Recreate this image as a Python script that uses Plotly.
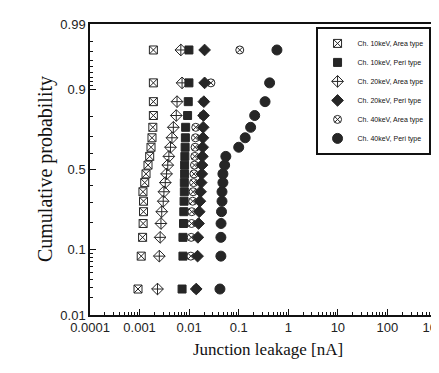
import plotly.graph_objects as go
from statistics import NormalDist

# cumulative probability of each rank
cum_prob = [0.028, 0.083, 0.139, 0.194, 0.25, 0.306, 0.361, 0.417, 0.472,
            0.528, 0.583, 0.639, 0.694, 0.75, 0.806, 0.861, 0.917, 0.972]

# junction leakage [nA] per series
ch10_area = [0.00093, 0.00108, 0.00115, 0.00118, 0.0012, 0.0012, 0.00117, 0.00127, 0.00135,
             0.00148, 0.0016, 0.0017, 0.00178, 0.00185, 0.0019, 0.0019, 0.0019, 0.0019]
ch10_peri = [0.0072, 0.0075, 0.0075, 0.0077, 0.0078, 0.0079, 0.008, 0.008, 0.0081,
             0.0081, 0.0082, 0.0083, 0.0084, 0.0085, 0.0093, 0.0096, 0.0099, 0.0099]
ch20_area = [0.0023, 0.0025, 0.0026, 0.0027, 0.0028, 0.003, 0.0031, 0.0033, 0.0035,
             0.0037, 0.0039, 0.0042, 0.0045, 0.0048, 0.0055, 0.0057, 0.0072, 0.0068]
ch20_peri = [0.0139, 0.0148, 0.015, 0.0155, 0.016, 0.0165, 0.017, 0.0175, 0.018,
             0.0182, 0.0185, 0.0188, 0.019, 0.0192, 0.0195, 0.0198, 0.0205, 0.0205]
ch40_area = [0.0139, 0.0108, 0.011, 0.0112, 0.0113, 0.0118, 0.012, 0.0123, 0.0125,
             0.0128, 0.013, 0.0132, 0.0134, 0.0136, 0.019, 0.0195, 0.0275, 0.105]
ch40_peri = [0.0418, 0.0437, 0.0437, 0.044, 0.045, 0.046, 0.046, 0.048, 0.048,
             0.052, 0.055, 0.10, 0.135, 0.174, 0.21, 0.34, 0.42, 0.59]

x_tick_vals = [1e-4, 1e-3, 1e-2, 1e-1, 1, 10, 100, 1000]
x_tick_text = ["0.0001", "0.001", "0.01", "0.1", "1", "10", "100", "1000"]
y_tick_probs = [0.01, 0.1, 0.5, 0.9, 0.99]
y_tick_text = ["0.01", "0.1", "0.5", "0.9", "0.99"]
y_minor_probs = [0.02, 0.03, 0.04, 0.05, 0.06, 0.07, 0.08, 0.09, 0.2, 0.3, 0.4,
                 0.6, 0.7, 0.8, 0.91, 0.92, 0.93, 0.94, 0.95, 0.96, 0.97, 0.98]

nd = NormalDist()
probit = lambda ps: [nd.inv_cdf(p) for p in ps]
yz = probit(cum_prob)

INK = "#262626"
series = [
    # name, values, symbol, size, legendrank  (drawing order chosen for overlap look)
    ("Ch. 10keV, Area type", ch10_area, "square-x-open", 8, 1),
    ("Ch. 20keV, Area type", ch20_area, "diamond-cross-open", 9, 3),
    ("Ch. 40keV, Area type", ch40_area, "circle-x-open", 8, 5),
    ("Ch. 10keV, Peri type", ch10_peri, "square", 8, 2),
    ("Ch. 20keV, Peri type", ch20_peri, "diamond", 9, 4),
    ("Ch. 40keV, Peri type", ch40_peri, "circle", 10, 6),
]

fig = go.Figure()
for name, vals, sym, sz, rank in series:
    fig.add_trace(go.Scatter(
        x=vals, y=yz, mode="markers", name=name, legendrank=rank,
        marker=dict(symbol=sym, size=sz, color=INK,
                    line=dict(color=INK, width=1)),
    ))

tick_font = dict(family="Liberation Sans Narrow, Arial Narrow, Liberation Sans, Arial",
                 size=13, color="#222")

fig.update_layout(
    width=439, height=373,
    margin=dict(l=82, r=10, t=16, b=66, autoexpand=False),
    paper_bgcolor="white", plot_bgcolor="white",
    showlegend=True,
    legend=dict(x=0.65, y=0.99, xanchor="left", yanchor="top",
                bordercolor="#111", borderwidth=2, bgcolor="white",
                font=dict(family="Liberation Sans Narrow, Arial Narrow, Liberation Sans",
                          size=7, color="#111"),
                itemwidth=30, tracegroupgap=0),
    xaxis=dict(type="log", range=[-4, 3], showgrid=False, zeroline=False, automargin=False,
               showline=True, linecolor="#111", linewidth=1.5, mirror=True,
               ticks="inside", ticklen=6, tickcolor="#111", tickwidth=1,
               tickvals=x_tick_vals, ticktext=x_tick_text, tickfont=tick_font,
               ticklabeloverflow="allow",
               minor=dict(ticks="inside", ticklen=3, tickcolor="#111", tickwidth=1,
                          tickvals=[k * d for d in x_tick_vals[:-1] for k in range(2, 10)],
                          showgrid=False)),
    yaxis=dict(range=[nd.inv_cdf(0.01), nd.inv_cdf(0.99)], showgrid=False, zeroline=False,
               automargin=False,
               showline=True, linecolor="#111", linewidth=1.5, mirror=True,
               ticks="inside", ticklen=6, tickcolor="#111", tickwidth=1,
               tickvals=probit(y_tick_probs), ticktext=y_tick_text, tickfont=tick_font,
               ticklabeloverflow="allow",
               minor=dict(ticks="inside", ticklen=3, tickcolor="#111", tickwidth=1,
                          tickvals=probit(y_minor_probs), showgrid=False)),
    annotations=[
        dict(text="Cumulative probability", xref="paper", yref="paper",
             x=-0.167, y=0.5, textangle=-90, showarrow=False,
             font=dict(family="Liberation Serif, Times New Roman, serif", size=20, color="#111")),
        dict(text="Junction leakage [nA]", xref="paper", yref="paper",
             x=0.513, y=-0.158, showarrow=False,
             font=dict(family="Liberation Serif, Times New Roman, serif", size=17, color="#111")),
    ],
)

fig.write_html("out.html")
